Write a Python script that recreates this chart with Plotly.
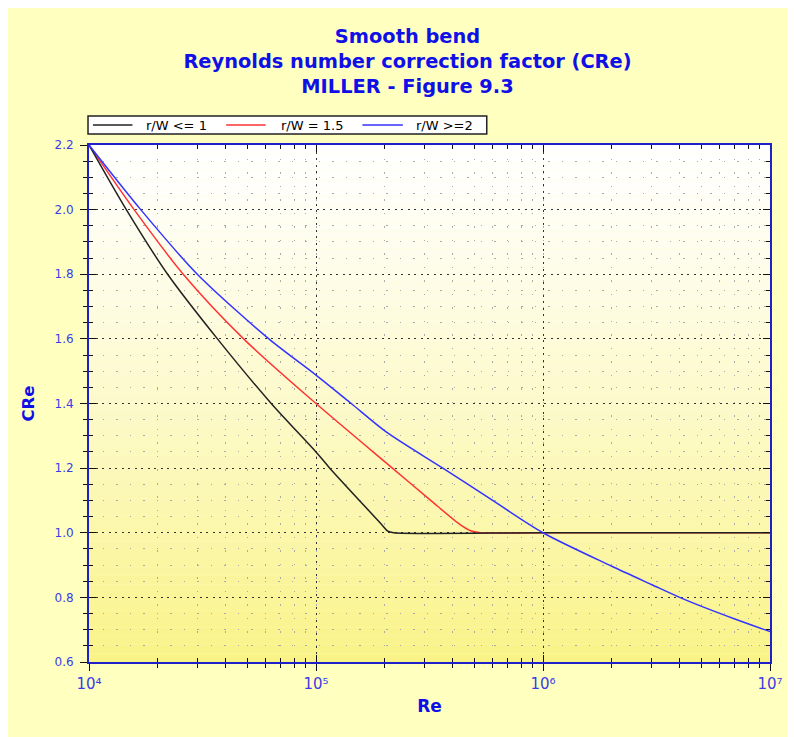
import plotly.graph_objects as go

# ---- data ----
series_names = ["r/W <= 1", "r/W = 1.5", "r/W >=2"]

re_rw1 = [1e4, 1.46e4, 2.22e4, 3.68e4, 6.35e4, 1.0e5, 1.15e5, 1.95e5, 2.07e5, 2.2e5, 1e6, 1e7]
cre_rw1 = [2.2, 2.0, 1.8, 1.6, 1.4, 1.25, 1.2, 1.025, 1.005, 1.0, 1.0, 1.0]

re_rw15 = [1e4, 1.58e4, 2.6e4, 4.8e4, 1.0e5, 2.17e5, 3.2e5, 4.3e5, 4.8e5, 5.3e5, 1e6, 1e7]
cre_rw15 = [2.2, 2.0, 1.8, 1.6, 1.4, 1.2, 1.1, 1.026, 1.006, 1.0, 1.0, 1.0]

re_rw2 = [1e4, 1.69e4, 3.0e4, 6.2e4, 1.0e5, 1.43e5, 2.03e5, 3.62e5, 6e5, 1e6, 2e6, 3e6, 4e6, 5e6, 7e6, 1e7]
cre_rw2 = [2.2, 2.0, 1.8, 1.6, 1.488, 1.4, 1.313, 1.2, 1.1, 1.0, 0.897, 0.840, 0.80, 0.772, 0.733, 0.694]

x_tickvals = [1e4, 1e5, 1e6, 1e7]
x_ticktext = ["10\u2074", "10\u2075", "10\u2076", "10\u2077"]

line_colors = ["#222222", "#FF3333", "#3333FF"]

# ---- style ----
FONT = "DejaVu Sans"
BLUE_TXT = "#1010E6"
TICK_TXT = "#3C3CE8"
AXIS_BLUE = "#2020C8"
W, H = 787, 729
L, R, T, B = 81, 16, 137, 75
pw, ph = W - L - R, H - T - B

px = lambda p: (p - L) / pw
py = lambda p: (H - B - p) / ph

fig = go.Figure()

# draw red first so that black sits on top where they coincide
order = [1, 0, 2]
data = [(re_rw1, cre_rw1), (re_rw15, cre_rw15), (re_rw2, cre_rw2)]
for i in order:
    x, y = data[i]
    fig.add_trace(go.Scatter(
        x=x, y=y, mode="lines", name=series_names[i],
        line=dict(color=line_colors[i], width=1.5, shape="spline", smoothing=0.8),
        showlegend=False,
    ))

# invisible trace to activate the overlay axes (for crossing ticks)
fig.add_trace(go.Scatter(x=re_rw2, y=cre_rw2, xaxis="x2", yaxis="y2", mode="lines",
                         line=dict(width=0, color="rgba(0,0,0,0)"), showlegend=False,
                         hoverinfo="skip"))

# vertical gradient inside the plot area
shapes = []
N = 60
top = (255, 255, 255)
bot = (249, 243, 135)
for k in range(N):
    t = ((k + 0.5) / N) ** 1.2
    c = tuple(int(round(top[j] * (1 - t) + bot[j] * t)) for j in range(3))
    shapes.append(dict(type="rect", xref="paper", yref="paper", x0=0, x1=1,
                       y0=1 - (k + 1) / N, y1=1 - k / N,
                       fillcolor="rgb(%d,%d,%d)" % c, line=dict(width=0), layer="below"))

# legend box (drawn by hand to match the compact boxed legend)
annotations = []
shapes.append(dict(type="rect", xref="paper", yref="paper", x0=px(80), x1=px(484), y0=py(126), y1=py(108),
                   fillcolor="white", line=dict(color="#222222", width=1.5), layer="above"))
leg_line_x = [(85, 125), (220, 260), (358, 399)]
leg_text_x = [137, 274, 410]
for i in range(3):
    x0, x1 = leg_line_x[i]
    shapes.append(dict(type="line", xref="paper", yref="paper", x0=px(x0), x1=px(x1), y0=py(117), y1=py(117),
                       line=dict(color=line_colors[i], width=1.5), layer="above"))
    annotations.append(dict(text=series_names[i], xref="paper", yref="paper", x=px(leg_text_x[i]), y=py(117),
                            xanchor="left", yanchor="middle", showarrow=False,
                            font=dict(family=FONT, size=13, color="#000000")))

common_x = dict(type="log", range=[4, 7])
common_y = dict(range=[0.6, 2.2], dtick=0.2, tick0=0.6)

fig.update_layout(
    width=W, height=H,
    margin=dict(l=L, r=R, t=T, b=B, pad=0),
    paper_bgcolor="#FFFFC0",
    plot_bgcolor="rgba(0,0,0,0)",
    shapes=shapes,
    annotations=annotations,
    font=dict(family=FONT, size=12, color=TICK_TXT),
    title=dict(
        text="Smooth bend<br>Reynolds number correction factor (CRe)<br>MILLER - Figure 9.3",
        x=399.5 / W, xanchor="center", xref="container",
        y=1 - 35 / H, yanchor="top", yref="container",
        font=dict(family=FONT, size=19.4, color=BLUE_TXT, weight="bold"),
    ),
    showlegend=False,
    xaxis=dict(
        **common_x,
        tickmode="array", tickvals=x_tickvals, ticktext=x_ticktext,
        showline=True, linecolor=AXIS_BLUE, linewidth=2, mirror=True,
        ticks="outside", ticklen=7, tickcolor="#111111", tickwidth=1,
        tickfont=dict(family=FONT, size=15, color=TICK_TXT),
        showgrid=True, gridcolor="#333333", gridwidth=1, griddash="2px,4.5px",
        zeroline=False,
        minor=dict(dtick="D1", ticks="outside", ticklen=4, tickcolor="#111111",
                   showgrid=True, gridcolor="#AAAAAA", griddash="1.5px,12px", gridwidth=1),
        title=dict(text="Re", font=dict(family=FONT, size=17, color=BLUE_TXT, weight="bold"), standoff=8),
    ),
    yaxis=dict(
        **common_y,
        tickformat=".1f",
        showline=True, linecolor=AXIS_BLUE, linewidth=2, mirror=True,
        ticks="outside", ticklen=7, tickcolor="#111111", tickwidth=1,
        ticklabelstandoff=4,
        tickfont=dict(family=FONT, size=12, color=TICK_TXT),
        showgrid=True, gridcolor="#333333", gridwidth=1, griddash="2px,4.5px",
        zeroline=False,
        minor=dict(dtick=0.05, ticks="outside", ticklen=4, tickcolor="#111111",
                   showgrid=True, gridcolor="#AAAAAA", griddash="1.5px,12px", gridwidth=1),
        title=dict(text="CRe", font=dict(family=FONT, size=16.5, color=BLUE_TXT, weight="bold"), standoff=16),
    ),
    xaxis2=dict(
        **common_x, overlaying="x", side="bottom", anchor="y2",
        tickmode="array", tickvals=x_tickvals,
        showline=True, linecolor=AXIS_BLUE, linewidth=2, mirror="ticks",
        ticks="inside", ticklen=7, tickcolor="#111111", tickwidth=1,
        showticklabels=False, showgrid=False, zeroline=False,
        minor=dict(dtick="D1", ticks="inside", ticklen=4, tickcolor="#111111", showgrid=False),
    ),
    yaxis2=dict(
        **common_y, overlaying="y", side="left", anchor="x2",
        showline=True, linecolor=AXIS_BLUE, linewidth=2, mirror="ticks",
        ticks="inside", ticklen=7, tickcolor="#111111", tickwidth=1,
        showticklabels=False, showgrid=False, zeroline=False,
        minor=dict(dtick=0.05, ticks="inside", ticklen=4, tickcolor="#111111", showgrid=False),
    ),
    hovermode=False,
)

fig.write_html("out.html")
